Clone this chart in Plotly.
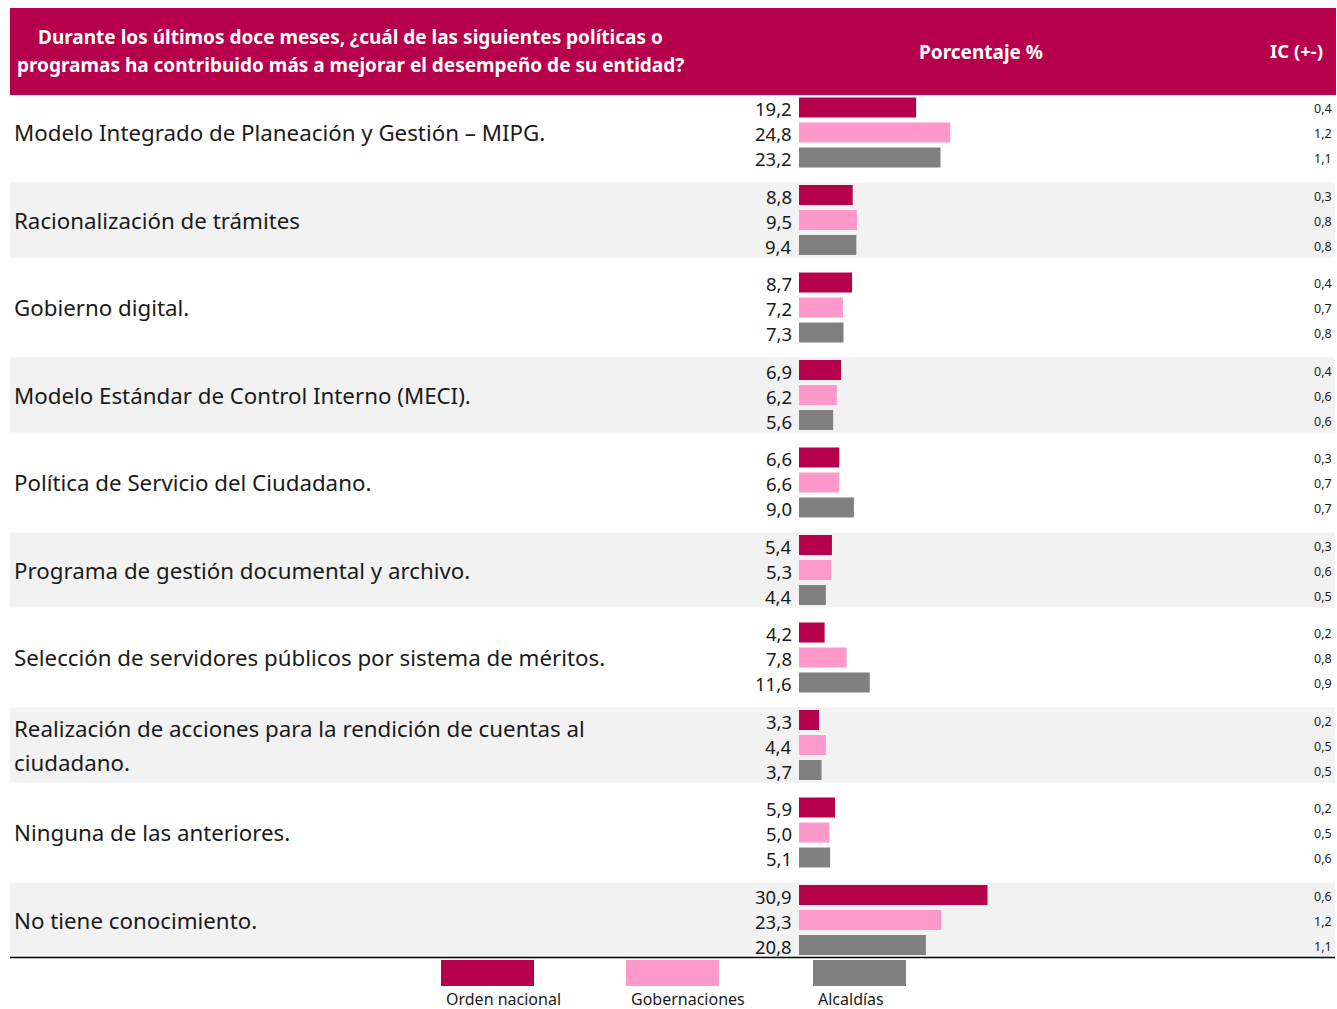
import plotly.graph_objects as go

categories = [
    "Modelo Integrado de Planeación y Gestión – MIPG.",
    "Racionalización de trámites",
    "Gobierno digital.",
    "Modelo Estándar de Control Interno (MECI).",
    "Política de Servicio del Ciudadano.",
    "Programa de gestión documental y archivo.",
    "Selección de servidores públicos por sistema de méritos.",
    "Realización de acciones para la rendición de cuentas al<br>ciudadano.",
    "Ninguna de las anteriores.",
    "No tiene conocimiento.",
]
series_names = ["Orden nacional", "Gobernaciones", "Alcaldías"]
orden_nacional = [19.2, 8.8, 8.7, 6.9, 6.6, 5.4, 4.2, 3.3, 5.9, 30.9]
gobernaciones = [24.8, 9.5, 7.2, 6.2, 6.6, 5.3, 7.8, 4.4, 5.0, 23.3]
alcaldias = [23.2, 9.4, 7.3, 5.6, 9.0, 4.4, 11.6, 3.7, 5.1, 20.8]
ic_orden = [0.4, 0.3, 0.4, 0.4, 0.3, 0.3, 0.2, 0.2, 0.2, 0.6]
ic_gob = [1.2, 0.8, 0.7, 0.6, 0.7, 0.6, 0.8, 0.5, 0.5, 1.2]
ic_alc = [1.1, 0.8, 0.8, 0.6, 0.7, 0.5, 0.9, 0.5, 0.6, 1.1]
header_question = ["Durante los últimos doce meses, ¿cuál de las siguientes políticas o",
                   "programas ha contribuido más a mejorar el desempeño de su entidad?"]
header_pct = "Porcentaje %"
header_ic = "IC (+-)"

series_values = [orden_nacional, gobernaciones, alcaldias]
series_ic = [ic_orden, ic_gob, ic_alc]
colors = ["#B7004B", "#FF99CC", "#808080"]

W, H = 1337, 1009
FONT = "Noto Sans"
ROW0 = 132.5
ROW_STEP = 87.5
SUB = 25
BAR_H = 20
X0_PX = 799
PX_PER_UNIT = 6.1

def px(x):
    return x / W

def fmt(v):
    return f"{v:.1f}".replace(".", ",")

fig = go.Figure()
shapes = []
annotations = []

# header
shapes.append(dict(type="rect", xref="paper", yref="y", x0=px(10), x1=px(1336), y0=8, y1=95,
                   fillcolor="#B7004B", line=dict(width=0), layer="below"))
for k, line in enumerate(header_question):
    annotations.append(dict(xref="paper", yref="y", x=px(350), y=37 + 28 * k, text=f"<b>{line}</b>",
                            showarrow=False, xanchor="center", yanchor="middle",
                            font=dict(family=FONT, size=19, color="white")))
annotations.append(dict(xref="paper", yref="y", x=px(981), y=52, text=f"<b>{header_pct}</b>",
                        showarrow=False, xanchor="center", yanchor="middle",
                        font=dict(family=FONT, size=19, color="white")))
annotations.append(dict(xref="paper", yref="y", x=px(1325), y=50, text=f"<b>{header_ic}</b>",
                        showarrow=False, xanchor="right", yanchor="middle",
                        font=dict(family=FONT, size=18.5, color="white")))

for i, cat in enumerate(categories):
    yc = ROW0 + ROW_STEP * i
    if i % 2 == 1:
        shapes.append(dict(type="rect", xref="paper", yref="y", x0=px(10), x1=px(1335),
                           y0=yc - 37.5, y1=yc + 37.5, fillcolor="#F2F2F2",
                           line=dict(width=0), layer="below"))
    lines = cat.split("<br>")
    n = len(lines)
    for k, line in enumerate(lines):
        annotations.append(dict(xref="paper", yref="y", x=px(12), y=yc + (k - (n - 1) / 2) * 34,
                                text=line, showarrow=False, xanchor="left", yanchor="middle",
                                font=dict(family=FONT, size=22.3, color="#1a1a1a")))

for j, (name, vals, ics, col) in enumerate(zip(series_names, series_values, series_ic, colors)):
    ys = [ROW0 + ROW_STEP * i + SUB * (j - 1) for i in range(len(categories))]
    fig.add_trace(go.Bar(x=vals, y=ys, orientation="h", width=BAR_H, name=name,
                         marker=dict(color=col, line=dict(width=0)), showlegend=False,
                         hoverinfo="skip"))
    for v, ic, y in zip(vals, ics, ys):
        annotations.append(dict(xref="x", yref="y", x=0, y=y + 1, text=fmt(v), showarrow=False,
                                xanchor="right", yanchor="middle", xshift=-5,
                                font=dict(family=FONT, size=18.5, color="#1a1a1a")))
        annotations.append(dict(xref="paper", yref="y", x=px(1334), y=y + 1, text=fmt(ic),
                                showarrow=False, xanchor="right", yanchor="middle",
                                font=dict(family=FONT, size=12.5, color="#1a1a1a")))

# bottom rule
shapes.append(dict(type="line", xref="paper", yref="y", x0=px(10), x1=px(1335), y0=957.5, y1=957.5,
                   line=dict(color="#000000", width=1.5)))

# legend
leg_x = [441, 626, 813]
for name, col, lx in zip(series_names, colors, leg_x):
    shapes.append(dict(type="rect", xref="paper", yref="y", x0=px(lx), x1=px(lx + 93),
                       y0=960, y1=986, fillcolor=col, line=dict(width=0)))
    annotations.append(dict(xref="paper", yref="y", x=px(lx + 3), y=998.5, text=name,
                            showarrow=False, xanchor="left", yanchor="middle",
                            font=dict(family=FONT, size=16, color="#1a1a1a")))

fig.update_layout(
    width=W, height=H,
    margin=dict(l=0, r=0, t=0, b=0),
    paper_bgcolor="white", plot_bgcolor="rgba(0,0,0,0)",
    xaxis=dict(domain=[px(X0_PX), 1], range=[0, (W - X0_PX) / PX_PER_UNIT],
               visible=False, fixedrange=True),
    yaxis=dict(domain=[0, 1], range=[H, 0], visible=False, fixedrange=True),
    barmode="overlay",
    shapes=shapes,
    annotations=annotations,
    showlegend=False,
)

fig.write_html(
    "out.html",
    config={"displayModeBar": False},
    post_script="document.body.style.margin='0';document.body.style.overflow='hidden';",
)
